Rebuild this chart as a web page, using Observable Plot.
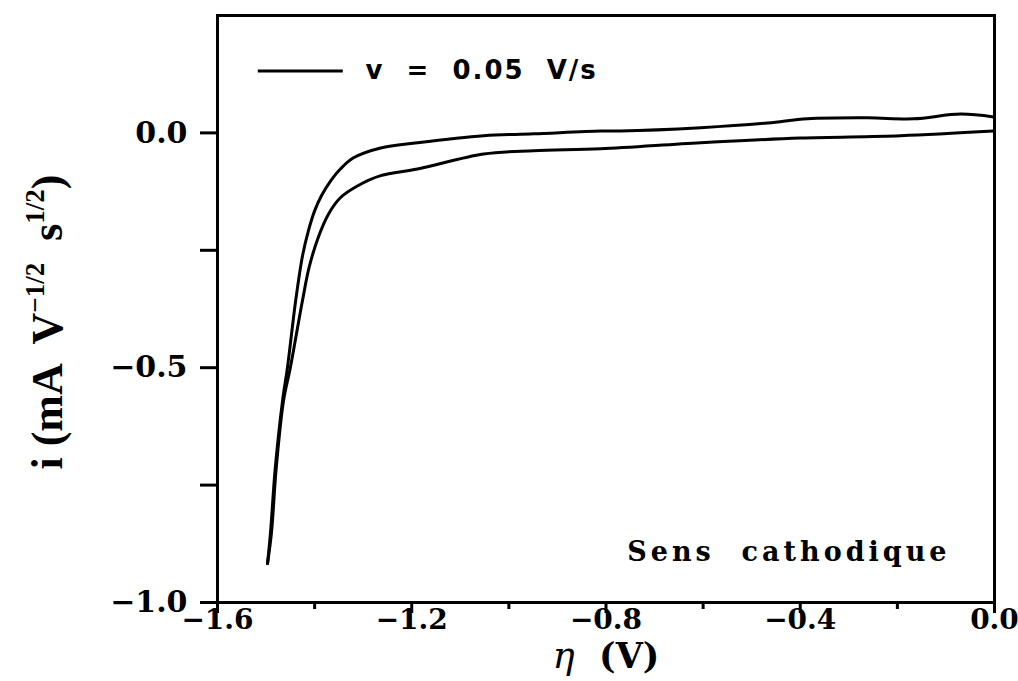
<!DOCTYPE html>
<html>
<head>
<meta charset="utf-8">
<script src="https://cdn.jsdelivr.net/npm/d3@7"></script>
<script src="https://cdn.jsdelivr.net/npm/@observablehq/plot@0.6"></script>
<style>
  html, body { margin: 0; padding: 0; background: #fff; }
  #chart svg { display: block; }
</style>
</head>
<body>
<div id="chart"></div>
<script>
// Linear sweep voltammogram, cathodic scan, v = 0.05 V/s
// Overpotential η (V) for the upper branch
const upperEta = [-1.497, -1.491, -1.481, -1.466, -1.456, -1.439, -1.425, -1.413, -1.400, -1.386,
  -1.367, -1.347, -1.320, -1.264, -1.188, -1.052, -0.949, -0.811, -0.770, -0.605, -0.467,
  -0.385, -0.261, -0.167, -0.070, -0.002];
// Normalised current i (mA V^-1/2 s^1/2) for the upper branch
const upperI = [-0.917, -0.853, -0.713, -0.570, -0.500, -0.357, -0.262, -0.209, -0.166, -0.134,
  -0.102, -0.077, -0.053, -0.032, -0.021, -0.006, -0.002, 0.004, 0.004, 0.011, 0.021,
  0.030, 0.032, 0.030, 0.040, 0.034];
// Lower branch
const lowerEta = [-1.497, -1.489, -1.479, -1.464, -1.450, -1.425, -1.411, -1.392, -1.371, -1.347, -1.312,
  -1.264, -1.188, -1.052, -0.949, -0.811, -0.605, -0.399, -0.194, -0.002];
const lowerI = [-0.917, -0.853, -0.713, -0.570, -0.500, -0.357, -0.285, -0.221, -0.172, -0.138, -0.113,
  -0.091, -0.077, -0.045, -0.038, -0.034, -0.021, -0.011, -0.006, 0.004];

const xMajorTicks = [-1.6, -1.2, -0.8, -0.4, 0.0];
const xMinorTicks = [-1.4, -1.0, -0.6, -0.2];
const yMajorTicks = [0.0, -0.5, -1.0];
const yMinorTicks = [-0.25, -0.75];

const legendLabel = "v  =  0.05  V/s";
const noteLabel = "Sens  cathodique";

const upper = upperEta.map((x, k) => ({x, y: upperI[k]}));
const lower = lowerEta.map((x, k) => ({x, y: lowerI[k]}));

const fmt = d => (d < 0 ? "\u2212" : "") + Math.abs(d).toFixed(1);
const serif = "'DejaVu Serif', serif";

const plot = Plot.plot({
  width: 1018,
  height: 681,
  marginLeft: 217,
  marginRight: 24,
  marginTop: 15,
  marginBottom: 79,
  style: {fontFamily: serif, background: "#fff", color: "#000", overflow: "visible"},
  x: {domain: [-1.6, 0]},
  y: {domain: [-1, 0.25]},
  marks: [
    Plot.frame({stroke: "#000", strokeWidth: 3}),
    Plot.axisY(yMajorTicks, {tickSize: 17, tickPadding: 13, strokeWidth: 3, tickFormat: fmt,
      fontSize: 30, fontWeight: "bold", label: null}),
    Plot.axisY(yMinorTicks, {tickSize: 17, strokeWidth: 3, text: null, label: null}),
    Plot.axisX(xMajorTicks, {tickSize: 11, tickPadding: -4, strokeWidth: 3, tickFormat: fmt,
      fontSize: 28, fontWeight: "bold", label: null}),
    Plot.axisX(xMinorTicks, {tickSize: 7, strokeWidth: 3, text: null, label: null}),
    Plot.line(upper, {x: "x", y: "y", stroke: "#000", strokeWidth: 3, curve: "catmull-rom"}),
    Plot.line(lower, {x: "x", y: "y", stroke: "#000", strokeWidth: 3, curve: "catmull-rom"}),
    // legend sample line and its label
    Plot.ruleY([0.132], {x1: -1.516, x2: -1.341, stroke: "#000", strokeWidth: 3}),
    Plot.text([legendLabel], {frameAnchor: "top-left", dx: 148, dy: 55, textAnchor: "start",
      lineAnchor: "middle", fontFamily: "'DejaVu Sans', sans-serif", fontWeight: "bold",
      fontSize: 26, fill: "#000", className: "legend-label"}),
    Plot.text([noteLabel], {frameAnchor: "bottom-right", dx: -44, dy: -50, textAnchor: "end",
      lineAnchor: "middle", fontWeight: "bold", fontSize: 27, fill: "#000", className: "note-label"})
  ]
});

const svg = d3.select(plot);
svg.selectAll("text").style("white-space", "pre");
svg.selectAll(".legend-label text").style("letter-spacing", "2px");
svg.selectAll(".note-label text").style("letter-spacing", "4px");

// y-axis title with superscript exponents
const yt = svg.append("text")
  .attr("transform", "translate(62,322) rotate(-90)")
  .attr("text-anchor", "middle")
  .style("font-family", "'Liberation Serif', serif")
  .style("font-weight", "bold")
  .style("font-size", "44px")
  .style("white-space", "pre")
  .attr("fill", "#000");
yt.append("tspan").text("i (mA  V");
yt.append("tspan").attr("dy", -18).style("font-size", "27px").text("\u22121/2");
yt.append("tspan").attr("dy", 18).text("  s");
yt.append("tspan").attr("dy", -18).style("font-size", "27px").text("1/2");
yt.append("tspan").attr("dy", 18).text(")");

// x-axis title
const xt = svg.append("text")
  .attr("x", 606)
  .attr("y", 668)
  .attr("text-anchor", "middle")
  .style("font-family", "'DejaVu Serif', serif")
  .style("font-size", "35px")
  .style("white-space", "pre")
  .attr("fill", "#000");
xt.append("tspan").style("font-style", "italic").style("font-size", "37px").text("\u03b7");
xt.append("tspan").style("font-weight", "bold").text("  (V)");

document.getElementById("chart").appendChild(plot);
</script>
</body>
</html>
